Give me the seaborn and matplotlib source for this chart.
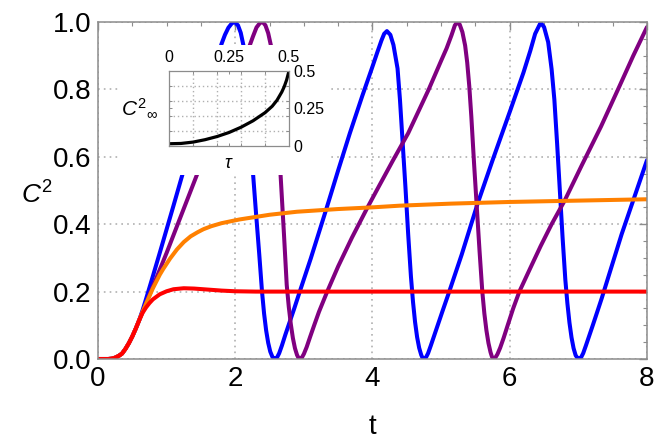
import matplotlib
matplotlib.use("Agg")
import matplotlib.pyplot as plt
import seaborn as sns
from matplotlib.patches import Rectangle
from matplotlib.ticker import MultipleLocator, FixedLocator

sns.set_style("white")
plt.rcParams['font.family'] = ['Liberation Sans', 'DejaVu Sans']
plt.rcParams['mathtext.fontset'] = 'custom'
plt.rcParams['mathtext.rm'] = 'Liberation Sans'
plt.rcParams['mathtext.it'] = 'Liberation Sans:italic'
plt.rcParams['text.color'] = 'black'
plt.rcParams['axes.labelcolor'] = 'black'

# ---- values ----
# start shared by all four curves
rise_t = [0, 0.15, 0.2, 0.25, 0.3, 0.35, 0.4, 0.45, 0.5, 0.55, 0.6]
rise_y = [0, 0, 0.001, 0.004, 0.009, 0.016, 0.03, 0.047, 0.067, 0.09, 0.115]

blue_t = rise_t + [0.65, 0.7, 0.8, 0.9, 1.0, 1.1, 1.22, 1.4, 1.6, 1.8, 1.85, 1.9, 1.95, 1.99,
                   2.04, 2.08, 2.12, 2.17, 2.21, 2.26, 2.3, 2.35, 2.39, 2.42, 2.45, 2.48,
                   2.51, 2.54, 2.56, 2.58, 2.61, 2.64, 2.68, 2.73, 2.79, 2.86, 2.94, 3.1,
                   3.33, 3.5, 3.67, 3.85, 3.99, 4.07, 4.13, 4.17, 4.21, 4.26, 4.305, 4.365,
                   4.4, 4.44, 4.48, 4.52, 4.56, 4.59, 4.62, 4.65, 4.68, 4.71, 4.73, 4.75,
                   4.78, 4.81, 4.85, 4.9, 4.95, 5.02, 5.11, 5.3, 5.53, 5.75, 6.01, 6.2, 6.3,
                   6.37, 6.45, 6.5, 6.56, 6.61, 6.65, 6.69, 6.73, 6.77, 6.81, 6.84, 6.87,
                   6.9, 6.93, 6.96, 6.99, 7.01, 7.04, 7.07, 7.11, 7.16, 7.21, 7.28, 7.34,
                   7.63, 8.0]
blue_y = rise_y + [0.145, 0.178, 0.246, 0.315, 0.385, 0.455, 0.54, 0.665, 0.8, 0.935, 0.962,
                   0.983, 0.996, 1.0, 0.99, 0.968, 0.93, 0.81, 0.69, 0.548, 0.44, 0.31, 0.2,
                   0.135, 0.085, 0.048, 0.022, 0.007, 0.002, 0.0, 0.005, 0.017, 0.04, 0.072,
                   0.108, 0.15, 0.2, 0.298, 0.447, 0.56, 0.67, 0.78, 0.862, 0.91, 0.945,
                   0.965, 0.973, 0.962, 0.932, 0.862, 0.77, 0.64, 0.51, 0.37, 0.245, 0.17,
                   0.11, 0.065, 0.033, 0.012, 0.003, 0.0, 0.005, 0.017, 0.04, 0.07, 0.1,
                   0.142, 0.195, 0.31, 0.46, 0.59, 0.739, 0.85, 0.915, 0.965, 0.998, 0.985,
                   0.94, 0.86, 0.77, 0.64, 0.5, 0.36, 0.235, 0.165, 0.108, 0.064, 0.032,
                   0.011, 0.002, 0.0, 0.005, 0.017, 0.04, 0.07, 0.1, 0.143, 0.18, 0.37,
                   0.59]

purple_t = rise_t + [0.65, 0.7, 0.8, 0.9, 1.0, 1.2, 1.45, 1.7, 1.95, 2.1, 2.21, 2.26, 2.31,
                     2.36, 2.4, 2.44, 2.48, 2.52, 2.55, 2.58, 2.62, 2.66, 2.71, 2.75, 2.78,
                     2.81, 2.84, 2.87, 2.9, 2.92, 2.945, 2.97, 3.0, 3.04, 3.09, 3.15, 3.22,
                     3.34, 3.5, 3.7, 3.92, 4.1, 4.3, 4.52, 4.815, 5.0, 5.08, 5.15, 5.2, 5.23,
                     5.27, 5.31, 5.35, 5.38, 5.41, 5.44, 5.48, 5.52, 5.56, 5.6, 5.63, 5.66,
                     5.69, 5.72, 5.74, 5.765, 5.79, 5.82, 5.86, 5.91, 5.97, 6.05, 6.14, 6.3,
                     6.45, 6.61, 6.8, 7.05, 7.33, 7.6, 7.8, 8.0]
purple_y = rise_y + [0.14, 0.165, 0.215, 0.265, 0.315, 0.42, 0.551, 0.675, 0.8, 0.875, 0.93,
                     0.958, 0.984, 0.997, 1.0, 0.99, 0.967, 0.93, 0.87, 0.79, 0.67, 0.548,
                     0.37, 0.22, 0.155, 0.103, 0.062, 0.032, 0.012, 0.004, 0.0, 0.004,
                     0.015, 0.035, 0.065, 0.1, 0.14, 0.2, 0.275, 0.36, 0.447, 0.515, 0.59,
                     0.67, 0.798, 0.885, 0.922, 0.96, 0.99, 0.998, 0.993, 0.97, 0.93, 0.88,
                     0.81, 0.72, 0.58, 0.45, 0.32, 0.2, 0.135, 0.085, 0.047, 0.02, 0.007,
                     0.0, 0.004, 0.014, 0.033, 0.062, 0.1, 0.15, 0.2, 0.27, 0.335, 0.4, 0.47,
                     0.575, 0.69, 0.81, 0.9, 0.985]

orange_t = rise_t + [0.65, 0.7, 0.8, 0.9, 0.95, 1.05, 1.15, 1.25, 1.35, 1.45, 1.535, 1.65,
                     1.8, 2.06, 2.5, 2.9, 3.5, 4.0, 4.4, 5.14, 6.0, 7.0, 8.0]
orange_y = rise_y + [0.14, 0.164, 0.21, 0.25, 0.267, 0.298, 0.325, 0.347, 0.364, 0.376,
                     0.385, 0.394, 0.403, 0.414, 0.428, 0.437, 0.445, 0.45, 0.455, 0.461,
                     0.466, 0.47, 0.474]

red_t = rise_t + [0.65, 0.7, 0.75, 0.8, 0.9, 1.0, 1.1, 1.25, 1.4, 1.6, 1.8, 2.0, 2.3, 8.0]
red_y = rise_y + [0.137, 0.153, 0.166, 0.177, 0.192, 0.201, 0.207, 0.21, 0.209, 0.206,
                  0.203, 0.201, 0.2, 0.2]

# inset: stationary value against tau
tau = [0, 0.05, 0.1, 0.15, 0.2, 0.25, 0.3, 0.35, 0.4, 0.43, 0.45, 0.47, 0.48, 0.49, 0.5]
c_inf = [0.015, 0.017, 0.026, 0.042, 0.063, 0.09, 0.125, 0.168, 0.222, 0.265, 0.305,
         0.36, 0.395, 0.44, 0.5]

frame_col = '#8c8c8c'
grid_col = '#b0b0b0'

fig = plt.figure(figsize=(6.64, 4.44), dpi=100)
ax = fig.add_axes([98 / 664, 1 - 359 / 444, 549 / 664, 337 / 444])

curves = [(blue_t, blue_y, '#0000ff'),
          (purple_t, purple_y, '#800080'),
          (orange_t, orange_y, '#ff8000'),
          (red_t, red_y, '#ff0000')]
for t, y, col in curves:
    sns.lineplot(x=t, y=y, color=col, lw=2.9, ax=ax, estimator=None, sort=False)

ax.set_xlim(0, 8)
ax.set_ylim(0, 1)
ax.set_xticks([0, 2, 4, 6, 8])
ax.set_xticklabels(['0', '2', '4', '6', '8'])
ax.set_yticks([0, 0.2, 0.4, 0.6, 0.8, 1.0])
ax.set_yticklabels(['0.0', '0.2', '0.4', '0.6', '0.8', '1.0'])
ax.xaxis.set_minor_locator(MultipleLocator(0.5))
ax.yaxis.set_minor_locator(MultipleLocator(0.05))
ax.tick_params(which='both', direction='in', top=True, right=True, color=frame_col,
               labelsize=20, labelcolor='black')
ax.tick_params(which='major', length=5.5, width=1)
ax.tick_params(which='minor', length=3, width=0.8)
ax.tick_params(axis='x', pad=5)
ax.tick_params(axis='y', pad=5)
ax.grid(True, which='major', color=grid_col, ls=(0, (1, 2.5)), lw=1.2)
for s in ax.spines.values():
    s.set_color(frame_col)
    s.set_linewidth(1.1)

ax.set_xlabel('t', fontsize=20, labelpad=16)
ax.set_ylabel(r'$C^2$', fontsize=19, rotation=0, va='center', ha='center')
ax.yaxis.set_label_coords(-0.111, 0.487)

# white backdrop under the inset (hides curves and grid there)
fig.add_artist(Rectangle((118 / 664, 1 - 175 / 444), 210 / 664, 130 / 444,
                         transform=fig.transFigure, facecolor='white',
                         edgecolor='none', zorder=1))

axin = fig.add_axes([169 / 664, 1 - 146 / 444, 120 / 664, 75 / 444], zorder=2)
sns.lineplot(x=tau, y=c_inf, color='black', lw=2.3, ax=axin, estimator=None, sort=False)
axin.set_xlim(0, 0.5)
axin.set_ylim(0, 0.5)
axin.set_xticks([0, 0.25, 0.5])
axin.set_xticklabels(['0', '0.25', '0.5'])
axin.set_yticks([0, 0.25, 0.5])
axin.set_yticklabels(['0', '0.25', '0.5'])
axin.xaxis.set_minor_locator(FixedLocator([0.1, 0.2, 0.3, 0.4]))
axin.yaxis.set_minor_locator(FixedLocator([0.1, 0.2, 0.3, 0.4]))
axin.tick_params(which='both', direction='in', top=True, right=True, bottom=True, left=True,
                 labeltop=True, labelbottom=False, labelright=True, labelleft=False,
                 color=frame_col, labelsize=11.5, labelcolor='black', length=2, width=0.7)
axin.tick_params(axis='x', pad=4)
axin.tick_params(axis='y', pad=3)
axin.grid(True, which='minor', color=grid_col, ls=(0, (1, 2)), lw=1.0)
axin.grid(False, which='major')
axin.set_xlabel('')
axin.set_ylabel('')
for s in axin.spines.values():
    s.set_color(frame_col)
    s.set_linewidth(0.9)

fig.text(140 / 664, 1 - 108 / 444, r'$C^2{}_\infty$', fontsize=15, ha='center', va='center')
fig.text(228 / 664, 1 - 164 / 444, 'τ', fontsize=13, style='italic', ha='center',
         va='center')

fig.savefig('out.png', dpi=100)
